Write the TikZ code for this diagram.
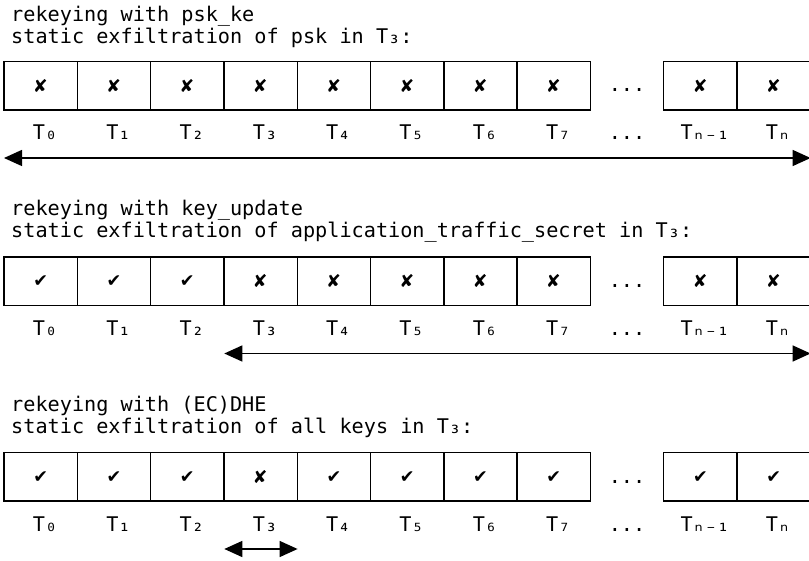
\documentclass[tikz,border=0pt]{standalone}
\usepackage{fontspec}
\setmainfont{DejaVu Sans Mono}
\usetikzlibrary{arrows.meta}

\begin{document}
\begin{tikzpicture}[x=1pt,y=1pt]
\tikzstyle{every node}+=[inner sep=0pt, font=\fontsize{20.2}{23}\selectfont]
\tikzstyle{cell}=[draw, black, line width=1.4pt, minimum width=73.3pt, minimum height=48.3pt]
\tikzstyle{lbl}=[anchor=base]
\tikzstyle{ttl}=[anchor=base west]
\tikzstyle{span}=[black, line width=1.4pt, {Triangle[length=18pt,width=16pt]}-{Triangle[length=18pt,width=16pt]}]
\useasboundingbox (0,0) rectangle (809,-561);
% psk_ke
\node [ttl] (a-t1) at (11,-22) {rekeying with psk\_ke};
\node [ttl] (a-t2) at (11,-44) {static exfiltration of psk in T₃:};
\node [cell] (a0) at (40.65,-85.8) {✘};
\node [cell] (a1) at (113.95,-85.8) {✘};
\node [cell] (a2) at (187.25,-85.8) {✘};
\node [cell] (a3) at (260.55,-85.8) {✘};
\node [cell] (a4) at (333.85,-85.8) {✘};
\node [cell] (a5) at (407.15,-85.8) {✘};
\node [cell] (a6) at (480.45,-85.8) {✘};
\node [cell] (a7) at (553.75,-85.8) {✘};
\node [lbl] (a-dots) at (627.05,-92) {...};
\node [cell] (an1) at (700.35,-85.8) {✘};
\node [cell] (an) at (773.65,-85.8) {✘};
\node [lbl] (la0) at (45.15,-140) {T₀};
\node [lbl] (la1) at (118.45,-140) {T₁};
\node [lbl] (la2) at (191.75,-140) {T₂};
\node [lbl] (la3) at (265.05,-140) {T₃};
\node [lbl] (la4) at (338.35,-140) {T₄};
\node [lbl] (la5) at (411.65,-140) {T₅};
\node [lbl] (la6) at (484.95,-140) {T₆};
\node [lbl] (la7) at (558.25,-140) {T₇};
\node [lbl] (la-dots) at (627.05,-140) {...};
\node [lbl] (lan1) at (704.85,-140) {Tₙ₋₁};
\node [lbl] (lan) at (778.15,-140) {Tₙ};
\coordinate (a-from) at (4,-158);
\coordinate (a-to) at (810.6,-158);
\draw [span] (a-from) -- (a-to);
% key_update
\node [ttl] (b-t1) at (11,-215.5) {rekeying with key\_update};
\node [ttl] (b-t2) at (11,-237.5) {static exfiltration of application\_traffic\_secret in T₃:};
\node [cell] (b0) at (40.65,-281.3) {✔};
\node [cell] (b1) at (113.95,-281.3) {✔};
\node [cell] (b2) at (187.25,-281.3) {✔};
\node [cell] (b3) at (260.55,-281.3) {✘};
\node [cell] (b4) at (333.85,-281.3) {✘};
\node [cell] (b5) at (407.15,-281.3) {✘};
\node [cell] (b6) at (480.45,-281.3) {✘};
\node [cell] (b7) at (553.75,-281.3) {✘};
\node [lbl] (b-dots) at (627.05,-287.5) {...};
\node [cell] (bn1) at (700.35,-281.3) {✘};
\node [cell] (bn) at (773.65,-281.3) {✘};
\node [lbl] (lb0) at (45.15,-335.5) {T₀};
\node [lbl] (lb1) at (118.45,-335.5) {T₁};
\node [lbl] (lb2) at (191.75,-335.5) {T₂};
\node [lbl] (lb3) at (265.05,-335.5) {T₃};
\node [lbl] (lb4) at (338.35,-335.5) {T₄};
\node [lbl] (lb5) at (411.65,-335.5) {T₅};
\node [lbl] (lb6) at (484.95,-335.5) {T₆};
\node [lbl] (lb7) at (558.25,-335.5) {T₇};
\node [lbl] (lb-dots) at (627.05,-335.5) {...};
\node [lbl] (lbn1) at (704.85,-335.5) {Tₙ₋₁};
\node [lbl] (lbn) at (778.15,-335.5) {Tₙ};
\coordinate (b-from) at (224.3,-353.5);
\coordinate (b-to) at (810.6,-353.5);
\draw [span] (b-from) -- (b-to);
% (EC)DHE
\node [ttl] (c-t1) at (11,-411) {rekeying with (EC)DHE};
\node [ttl] (c-t2) at (11,-433) {static exfiltration of all keys in T₃:};
\node [cell] (c0) at (40.65,-476.8) {✔};
\node [cell] (c1) at (113.95,-476.8) {✔};
\node [cell] (c2) at (187.25,-476.8) {✔};
\node [cell] (c3) at (260.55,-476.8) {✘};
\node [cell] (c4) at (333.85,-476.8) {✔};
\node [cell] (c5) at (407.15,-476.8) {✔};
\node [cell] (c6) at (480.45,-476.8) {✔};
\node [cell] (c7) at (553.75,-476.8) {✔};
\node [lbl] (c-dots) at (627.05,-483) {...};
\node [cell] (cn1) at (700.35,-476.8) {✔};
\node [cell] (cn) at (773.65,-476.8) {✔};
\node [lbl] (lc0) at (45.15,-531) {T₀};
\node [lbl] (lc1) at (118.45,-531) {T₁};
\node [lbl] (lc2) at (191.75,-531) {T₂};
\node [lbl] (lc3) at (265.05,-531) {T₃};
\node [lbl] (lc4) at (338.35,-531) {T₄};
\node [lbl] (lc5) at (411.65,-531) {T₅};
\node [lbl] (lc6) at (484.95,-531) {T₆};
\node [lbl] (lc7) at (558.25,-531) {T₇};
\node [lbl] (lc-dots) at (627.05,-531) {...};
\node [lbl] (lcn1) at (704.85,-531) {Tₙ₋₁};
\node [lbl] (lcn) at (778.15,-531) {Tₙ};
\coordinate (c-from) at (224.3,-549);
\coordinate (c-to) at (297.6,-549);
\draw [span] (c-from) -- (c-to);
\end{tikzpicture}
\end{document}
